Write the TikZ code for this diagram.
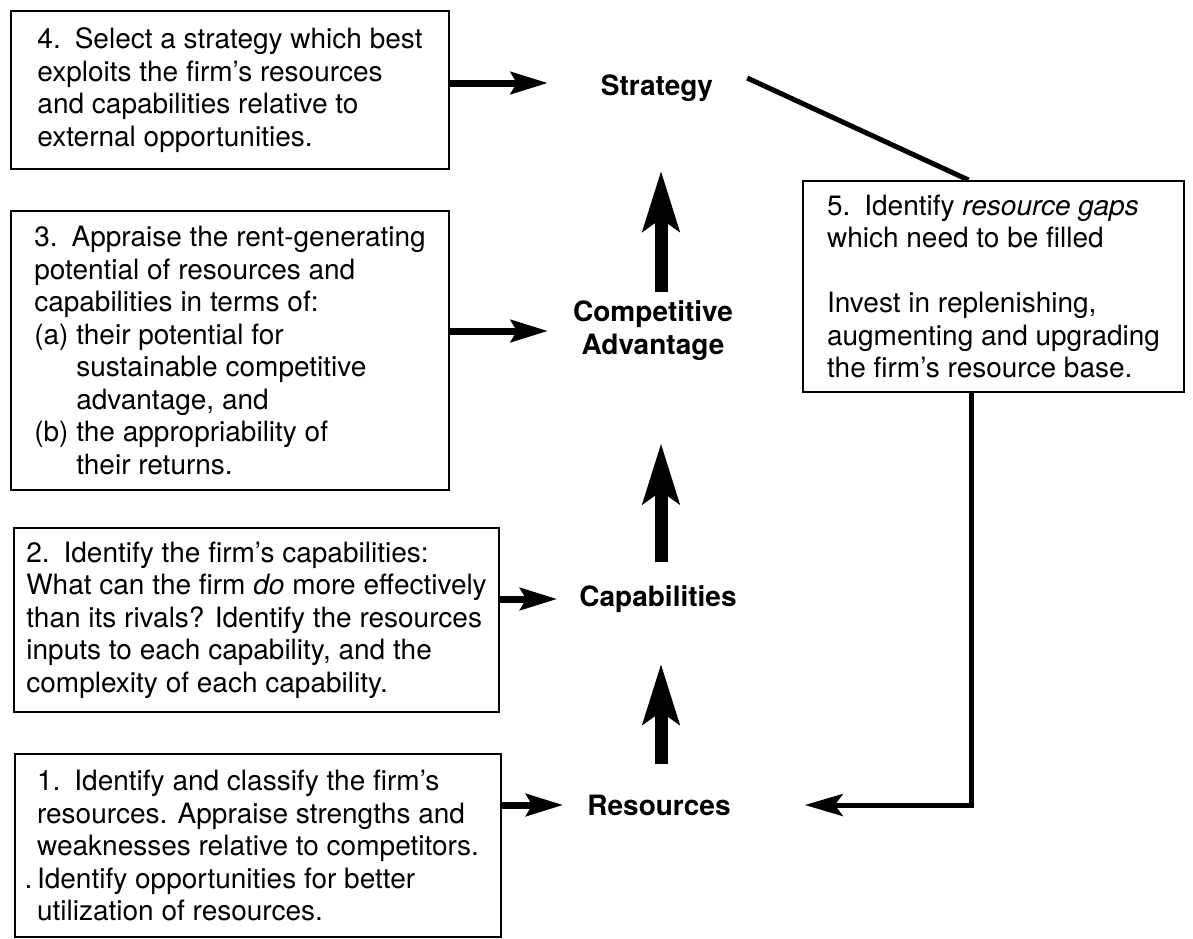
\documentclass[tikz,border=0pt]{standalone}
\usepackage{fontspec}
\setmainfont{TeX Gyre Heros}
\usetikzlibrary{arrows.meta}
\begin{document}
\begin{tikzpicture}[x=1pt,y=-1pt,
  box/.style={draw, line width=2pt, inner sep=0pt, align=left, anchor=north west,
    font=\fontsize{28}{32.5}\selectfont},
  lbl/.style={inner sep=0pt, align=center, font=\fontsize{28}{33}\selectfont\bfseries},
  harrow/.style={line width=7pt, -{Stealth[length=37pt,width=22pt,inset=6pt]}},
  varrow/.style={line width=13pt, -{Stealth[length=60pt,width=36pt,inset=12pt]}},
  rarrow/.style={line width=5pt, -{Stealth[length=38pt,width=22pt,inset=8pt]}},
  link/.style={line width=5pt}]
\useasboundingbox[fill=white] (0,0) rectangle (1193,938);

% boxes
\node[box, minimum width=438pt, minimum height=158pt] (b4) at (10,10)
  {4.\enspace Select a strategy which best\\
   exploits the firm's resources\\
   and capabilities relative to\\
   external opportunities.};
\node[box, minimum width=438pt, minimum height=279pt] (b3) at (10,210)
  {3.\enspace Appraise the rent-generating\\
   potential of resources and\\
   capabilities in terms of:\\
   (a) their potential for\\
   \hphantom{(a)\ }sustainable competitive\\
   \hphantom{(a)\ }advantage, and\\
   (b) the appropriability of\\
   \hphantom{(b)\ }their returns.};
\node[box, minimum width=485pt, minimum height=184pt] (b2) at (13,527)
  {2.\enspace Identify the firm's capabilities:\\
   What can the firm \textit{do} more effectively\\
   than its rivals? Identify the resources\\
   inputs to each capability, and the\\
   complexity of each capability.};
\node[box, minimum width=486pt, minimum height=183pt] (b1) at (14,753)
  {1.\enspace Identify and classify the firm's\\
   resources. Appraise strengths and\\
   weaknesses relative to competitors.\\
   \llap{.\,}Identify opportunities for better\\
   utilization of resources.};
\node[box, minimum width=381pt, minimum height=211pt] (b5) at (802,180)
  {5.\enspace Identify \textit{resource gaps}\\
   which need to be filled\\[32.5pt]
   Invest in replenishing,\\
   augmenting and upgrading\\
   the firm's resource base.};

% labels
\node[lbl] (strategy) at (657,88) {Strategy};
\node[lbl] (compadv) at (653,331) {Competitive\\Advantage};
\node[lbl] (capab) at (658,599) {Capabilities};
\node[lbl] (resources) at (659,805) {Resources};
\coordinate (axis) at (661,0);

% horizontal arrows
\draw[harrow, shorten >=53pt] ([yshift=5pt]b4.east |- strategy) -- ([yshift=5pt]strategy.west);
\draw[harrow, shorten >=25pt] (b3.east |- compadv) -- (compadv.west);
\draw[harrow, shorten >=22pt] (b2.east |- capab) -- (capab.west);
\draw[harrow, shorten >=24pt] (b1.east |- resources) -- (resources.west);

% vertical arrows
\draw[varrow, shorten <=9pt, shorten >=69pt] (compadv.north -| axis) -- (strategy.south -| axis);
\draw[varrow, shorten <=23pt, shorten >=82pt] (capab.north -| axis) -- (compadv.south -| axis);
\draw[varrow, shorten <=30pt, shorten >=51pt] (resources.north -| axis) -- (capab.south -| axis);

% feedback
\draw[link] ([xshift=34pt,yshift=10pt]strategy.east) -- ([xshift=-25pt]b5.north);
\draw[rarrow, shorten >=74pt] ([xshift=-22pt]b5.south) |- (resources.east);
\end{tikzpicture}
\end{document}
